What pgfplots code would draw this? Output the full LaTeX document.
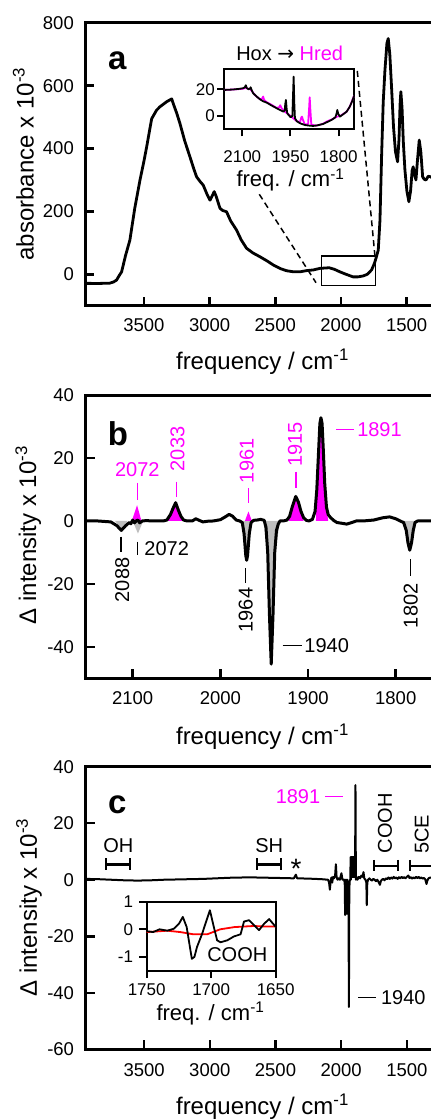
\documentclass[border=0pt]{standalone}
\usepackage{pgfplots}
\pgfplotsset{compat=1.18}
\usepackage{fontspec}
\setmainfont{Liberation Sans}
\newfontfamily\dejavu{DejaVu Sans}
\definecolor{mag}{RGB}{255,0,255}
\definecolor{gfill}{RGB}{190,190,190}
\newcommand\fs[1]{\fontsize{#1}{#1}\selectfont}
\pgfplotsset{
  mainax/.style={scale only axis, anchor=south west, x dir=reverse, clip=false,
    axis line style={line width=3pt}, tick align=inside, major tick length=9pt,
    tick style={line width=2.5pt, black}, xtick pos=left, ytick pos=left,
    tick label style={font=\fs{18.5}},
    /pgf/number format/1000 sep={}, /pgf/number format/assume math mode=true,
    yticklabel style={anchor=east, inner sep=0pt, xshift=-11.5pt},
    xticklabel style={anchor=center, inner sep=0pt}},
  insetax/.style={scale only axis, anchor=south west, x dir=reverse, clip=false,
    axis line style={line width=2.3pt}, tick align=outside, major tick length=7pt,
    tick style={line width=2pt, black}, xtick pos=left, ytick pos=left,
    tick label style={font=\fs{17}},
    /pgf/number format/1000 sep={}, /pgf/number format/assume math mode=true,
    yticklabel style={anchor=east, inner sep=0pt},
    xticklabel style={anchor=center, inner sep=0pt}},
}
\begin{document}
\begin{tikzpicture}

% ---------------- panel a ----------------
\begin{axis}[mainax, at={(85.5pt,813.2pt)}, width=386.8pt, height=283pt,
  xmin=1000, xmax=3945, ymin=-100, ymax=800,
  xtick={1500,2000,2500,3000,3500}, ytick={0,200,400,600,800},
  xticklabel style={yshift=-19.5pt}]
\addplot[line width=2.8pt, line join=round] coordinates {
(3945,-28.6)(3850,-29)(3760,-28)(3730,-24)(3708,-18)(3690,-5)(3670,8)(3640,60)(3607,109)(3570,210)(3530,300)(3500,360)(3479,406)(3454,465)(3441,495)(3404,522)(3378,533)(3327,549)(3289,558)(3270,535)(3250,512)(3226,480)(3190,425)(3150,374)(3120,335)(3099,310)(3070,294)(3049,284)(3020,255)(2997,236)(2980,250)(2965,263)(2950,248)(2921,210)(2900,203)(2871,199)(2840,170)(2795,141)(2760,110)(2719,83)(2670,68)(2617,56)(2560,42)(2516,30)(2460,18)(2414,11.5)(2360,8)(2312,8)(2260,12)(2211,14)(2160,19)(2090,21)(2050,16)(2008,8)(1960,0)(1908,-8)(1870,-8)(1830,-5)(1800,0)(1767,14)(1745,35)(1730,56)(1716,77)(1703,172)(1690,385)(1678,550)(1665,650)(1650,735)(1640,750)(1628,700)(1615,597)(1600,470)(1585,390)(1569,358)(1558,430)(1550,540)(1544,581)(1535,530)(1525,420)(1513,332)(1498,265)(1483,231)(1470,265)(1458,330)(1450,342)(1440,318)(1429,300)(1418,360)(1404,427)(1392,390)(1378,310)(1365,302)(1353,300)(1335,312)(1315,310)(1290,300)(1200,280)};
\pgfplotsinvokeforeach{1500,2000,2500,3000,3500}{\draw[line width=2.5pt] (axis cs:#1,-100) -- ++(0pt,9pt);}
\pgfplotsinvokeforeach{0,200,400,600,800}{\draw[line width=2.5pt] (axis cs:3945,#1) -- ++(9pt,0pt);}
\end{axis}

% inset a
\begin{axis}[insetax, at={(224.3pt,989.7pt)}, width=129.7pt, height=60.3pt,
  xmin=1752, xmax=2156, ymin=-10, ymax=35.2,
  xtick={1800,1950,2100}, ytick={0,20},
  xticklabel style={yshift=-20.5pt}, yticklabel style={xshift=-2.3pt}]
\addplot[mag, line width=1.8pt, line join=round] coordinates {
(2156,19.5)(2130,19.8)(2100,20.3)(2090,21)(2075,20)(2068,18)(2060,15.5)(2045,12.5)(2038,13)(2035,14.5)(2032,12)(2025,10.5)(2010,8.5)(1993,6)(1985,6.5)(1982,8)(1978,6)(1970,3.5)(1960,2)(1950,0)(1940,-2)(1930,-4)(1920,-4.5)(1916,-1)(1914,-0.5)(1911,-3)(1905,-6.5)(1895,-6)(1892,5)(1890,14)(1888,5)(1885,-6.5)(1870,-7.3)(1850,-6)(1835,-4)(1820,-2.5)(1805,-0.5)(1795,0)(1775,3.2)(1765,7)(1752,15)};
\addplot[black, line width=1.8pt, line join=round] coordinates {
(2156,19.5)(2130,19.8)(2110,20.3)(2097,20.8)(2092,21.5)(2089,23)(2086,21)(2081,20)(2076,20.5)(2074,21.5)(2071,19.5)(2066,17)(2055,14.5)(2045,12.5)(2035,11)(2024,10)(2010,8)(1993,5.8)(1980,4.2)(1972,3.2)(1968,4)(1966,9)(1964,12)(1962,6)(1960,2)(1955,0.5)(1949,-1)(1944,0)(1942,15)(1940,29.5)(1938,10)(1936,-1.7)(1930,-4)(1920,-5.5)(1905,-6.8)(1890,-7.3)(1879,-7.5)(1865,-7)(1848,-6)(1835,-4.5)(1822,-3)(1810,-1)(1806,2)(1804,4.5)(1801,1.5)(1796,-0.5)(1790,0.5)(1775,3.2)(1765,7)(1757,11.5)(1752,15)};
\pgfplotsinvokeforeach{1800,1950,2100}{\draw[line width=2pt] (axis cs:#1,-10) -- ++(0pt,-7pt);}
\pgfplotsinvokeforeach{0,20}{\draw[line width=2pt] (axis cs:2156,#1) -- ++(-7pt,0pt);}
\end{axis}

% ---------------- panel b ----------------
\begin{axis}[mainax, at={(85.7pt,440.7pt)}, width=397.7pt, height=283.2pt,
  xmin=1700, xmax=2153.6, ymin=-50, ymax=40,
  xtick={1800,1900,2000,2100}, ytick={-40,-20,0,20,40},
  xticklabel style={yshift=-20pt}]
\addplot[fill=gfill, draw=none] coordinates {(2120,0)(2116,-1.5)(2113,-3)(2110,-1.5)(2106,0)} \closedcycle;
\addplot[fill=gfill, draw=none] coordinates {(2100,0)(2094,-4)(2088,0)} \closedcycle;
\addplot[fill=gfill, draw=none] coordinates {(1975,0)(1970,-12.5)(1965,0)} \closedcycle;
\addplot[fill=gfill, draw=none] coordinates {(1951,0)(1944,-15)(1942,-45)(1940,-15)(1932,0)} \closedcycle;
\addplot[fill=gfill, draw=none] coordinates {(1792,0)(1784,-9.3)(1776,0)} \closedcycle;
\addplot[fill=mag, draw=none] coordinates {(2101,0)(2095,5)(2090,0)} \closedcycle;
\addplot[fill=mag, draw=none] coordinates {(2062,0)(2057,2)(2054,4)(2051,5.8)(2048,3.5)(2045,1.5)(2042,0)} \closedcycle;
\addplot[fill=mag, draw=none] coordinates {(1972,0)(1968,3)(1964,0)} \closedcycle;
\addplot[fill=mag, draw=none] coordinates {(1922,0)(1921,1.5)(1918,4.5)(1914,7.8)(1911,6)(1908,3)(1905,0)} \closedcycle;
\addplot[fill=mag, draw=none] coordinates {(1891,0)(1890,10)(1888,22)(1886.5,31)(1885.3,32.8)(1884,31)(1882.5,22)(1881,12)(1879,4.4)(1877,0)} \closedcycle;
\addplot[black, line width=3pt, line join=round] coordinates {
(2153,0)(2140,0)(2125,-0.3)(2118,-1.5)(2113,-3)(2108,-1.5)(2104,-0.5)(2102,-0.9)(2100,0.3)(2098,-0.6)(2096,0)(2094,0.3)(2092,-0.6)(2089,0)(2085,0.1)(2075,0)(2065,0)(2061,0.3)(2057,2)(2054,4)(2051,5.8)(2048,3.5)(2045,1.5)(2042,0.3)(2038,0)(2032,0)(2028,0.7)(2025,0.3)(2020,-0.3)(2015,-0.1)(2008,0)(2000,0.4)(1995,1.2)(1990,2.1)(1986,1.5)(1982,0.3)(1978,0)(1975,-0.5)(1973,-4)(1971,-11)(1970,-12.5)(1969,-11)(1967,-4)(1965,-0.5)(1962,0.2)(1958,0.3)(1954,0.5)(1950,0.2)(1948,-2)(1946,-10)(1944,-30)(1942,-45.5)(1940,-30)(1938,-10)(1936,-3)(1934,-1)(1932,0)(1928,0)(1924,0.3)(1921,1.5)(1918,4.5)(1914,7.8)(1911,6)(1908,3)(1905,1)(1902,0.2)(1899,0)(1895,0.5)(1892,3)(1890,10)(1888,22)(1886.5,31)(1885.3,32.8)(1884,31)(1882.5,22)(1881,12)(1879,4.4)(1877,2)(1875,1.3)(1871,0.2)(1867,-0.5)(1860,-0.8)(1856,-1)(1850,-0.5)(1845,0)(1837,0)(1825,0.3)(1815,1)(1807,1.3)(1800,0.7)(1795,0)(1791,-0.5)(1788,-3)(1786,-7)(1784,-9.3)(1782,-7)(1780,-3)(1778,-0.5)(1775,0)(1765,0)(1750,0)(1700,0)};
\pgfplotsinvokeforeach{1800,1900,2000,2100}{\draw[line width=2.5pt] (axis cs:#1,-50) -- ++(0pt,9pt);}
\pgfplotsinvokeforeach{-40,-20,0,20,40}{\draw[line width=2.5pt] (axis cs:2153.6,#1) -- ++(9pt,0pt);}
\end{axis}

% ---------------- panel c ----------------
\begin{axis}[mainax, at={(85.7pt,69.7pt)}, width=386.8pt, height=282.6pt,
  xmin=1000, xmax=3945, ymin=-60, ymax=40,
  xtick={1500,2000,2500,3000,3500}, ytick={-60,-40,-20,0,20,40},
  xticklabel style={yshift=-20.5pt}]
\addplot[black, line width=2pt, line join=round] coordinates {
(3945,0.3)(3850,0.2)(3750,0)(3650,-0.2)(3550,-0.3)(3450,-0.2)(3350,0)(3250,0.1)(3150,0.2)(3050,0.3)(2950,0.5)(2850,0.7)(2750,0.8)(2650,0.8)(2550,0.7)(2450,0.6)(2360,0.5)(2345,1.8)(2335,0.5)(2250,0.4)(2150,0.2)(2100,0)(2092,-1)(2086,-3.5)(2080,-0.5)(2074,0.8)(2068,-1)(2062,1)(2055,0.5)(2046,1.5)(2040,5.5)(2035,1)(2028,0)(2020,0.5)(2010,0)(1998,2.3)(1990,0)(1976,0)(1972,-2)(1970,-12.5)(1968,0)(1966,-12)(1964,-1)(1962,-12)(1960,0)(1958,-12)(1956,-1)(1954,-12)(1952,0)(1950,-12)(1948,-2)(1946,-12)(1944,-5)(1941,-45)(1938,-3)(1934,0)(1930,0)(1928,8)(1926,0)(1924,8)(1922,1)(1920,8)(1918,1)(1916,8)(1914,1)(1912,8)(1910,1)(1908,8)(1906,1)(1904,8)(1902,1)(1900,8)(1898,1)(1896,8)(1894,2)(1891,33.5)(1888,0)(1884,1)(1876,0)(1866,1)(1856,0.5)(1846,1.5)(1836,1)(1830,2.7)(1824,0.5)(1815,0)(1808,-1)(1805,-9)(1801,-1)(1795,0)(1785,0.5)(1775,0)(1765,-0.3)(1755,0.3)(1745,0)(1735,-0.5)(1725,0)(1715,-0.8)(1705,-1.8)(1698,-0.5)(1690,0)(1680,0.3)(1670,-0.2)(1660,0.5)(1650,0.2)(1640,0.8)(1630,0.3)(1620,0.8)(1610,0.4)(1600,1)(1590,0.5)(1580,0.8)(1570,0.3)(1560,0.9)(1550,0.5)(1540,1)(1530,0.6)(1520,0.9)(1510,0.5)(1500,1)(1488,1.5)(1480,0.6)(1470,0.9)(1460,0.4)(1450,0.8)(1440,0.5)(1430,1)(1420,0.6)(1410,1)(1400,0.5)(1390,0.8)(1380,0.4)(1370,0.6)(1360,0.2)(1350,-1.5)(1345,-0.5)(1335,0.5)(1320,0.8)(1300,0.6)};
\pgfplotsinvokeforeach{1500,2000,2500,3000,3500}{\draw[line width=2.5pt] (axis cs:#1,-60) -- ++(0pt,9pt);}
\pgfplotsinvokeforeach{-60,-40,-20,0,20,40}{\draw[line width=2.5pt] (axis cs:3945,#1) -- ++(9pt,0pt);}
\end{axis}

% inset c
\begin{axis}[insetax, at={(146.7pt,148.3pt)}, width=129pt, height=69pt,
  xmin=1650, xmax=1750, ymin=-1.5, ymax=1,
  xtick={1650,1700,1750}, ytick={-1,0,1},
  xticklabel style={yshift=-12.3pt}, yticklabel style={xshift=-6.4pt}]
\addplot[red, line width=1.8pt, line join=round] coordinates {
(1750,-0.1)(1740,-0.07)(1734,-0.05)(1724,-0.1)(1714,-0.18)(1703,-0.18)(1693,0)(1682,0.08)(1667,0.12)(1658,0.1)(1650,0.1)};
\addplot[black, line width=1.8pt, line join=round] coordinates {
(1750,-0.07)(1745,-0.1)(1740,0)(1734,-0.05)(1729,0.02)(1725,0.2)(1722,0.45)(1719,0.08)(1717,-0.5)(1715,-1.07)(1713,-1.0)(1711,-0.64)(1707,-0.16)(1704.5,0.2)(1701,0.69)(1698,0.09)(1695.4,-0.4)(1692.8,-0.47)(1687.6,-0.4)(1682.4,-0.26)(1677.2,-0.18)(1674.6,0.28)(1670.7,0.33)(1666.8,0.15)(1662.9,-0.03)(1659,0.2)(1655.1,0.37)(1650,0.09)};
\pgfplotsinvokeforeach{1650,1700,1750}{\draw[line width=2pt] (axis cs:#1,-1.5) -- ++(0pt,-7.5pt);}
\pgfplotsinvokeforeach{-1,0,1}{\draw[line width=2pt] (axis cs:1750,#1) -- ++(-8pt,0pt);}
\end{axis}

% ---------------- annotations panel a ----------------
\node[font=\fs{24}, rotate=90] at (23.3pt,955pt) {absorbance x 10\textsuperscript{-3}};
\node[font=\fs{24}] at (262.5pt,757pt) {frequency / cm\textsuperscript{-1}};
\node[font=\fs{33}\bfseries] at (117.3pt,1058pt) {a};
\node[font=\fs{20}] at (289.7pt,1065.7pt) {Hox {\dejavu →} \textcolor{mag}{Hred}};
\node[font=\fs{22}] at (290.5pt,939pt) {freq. / cm\textsuperscript{-1}};
\draw[line width=1.5pt] (321.7pt,863pt) rectangle (375.7pt,833.7pt);
\draw[line width=1.5pt, dash pattern=on 6pt off 4pt] (259.3pt,924.7pt) -- (316pt,836.3pt);
\draw[line width=1.5pt, dash pattern=on 6pt off 4pt] (357.3pt,1048pt) -- (375pt,862.3pt);

% ---------------- annotations panel b ----------------
\node[font=\fs{24}, rotate=90] at (28.3pt,584pt) {Δ intensity x 10\textsuperscript{-3}};
\node[font=\fs{24}] at (262.5pt,382.3pt) {frequency / cm\textsuperscript{-1}};
\node[font=\fs{33}\bfseries] at (118pt,685.7pt) {b};
\begin{scope}[mag, font=\fs{20}]
\node at (137.3pt,649.7pt) {2072};
\draw[line width=1.5pt] (137.3pt,636pt) -- (137.3pt,619pt);
\node[rotate=90] at (177.5pt,670pt) {2033};
\draw[line width=1.5pt] (176.7pt,637.3pt) -- (176.7pt,622.3pt);
\node[rotate=90] at (246.7pt,658.2pt) {1961};
\draw[line width=1.5pt] (248.3pt,630.7pt) -- (248.3pt,615.7pt);
\node[rotate=90] at (295pt,674.8pt) {1915};
\draw[line width=1.5pt] (296pt,647.3pt) -- (296pt,630.7pt);
\draw[line width=1.5pt] (336pt,689.7pt) -- (354.3pt,689.7pt);
\node at (379.5pt,689.7pt) {1891};
\end{scope}
\begin{scope}[black, font=\fs{20}]
\node[rotate=90] at (122.3pt,539pt) {2088};
\draw[line width=1.5pt] (121pt,582.3pt) -- (121pt,567.3pt);
\draw[line width=1.5pt] (137.3pt,577.3pt) -- (137.3pt,564pt);
\node at (166.7pt,570.7pt) {2072};
\node[rotate=90] at (245.7pt,509pt) {1964};
\draw[line width=1.5pt] (245.7pt,550.7pt) -- (245.7pt,536.3pt);
\draw[line width=1.5pt] (282.7pt,473.3pt) -- (301.7pt,473.3pt);
\node at (326.7pt,473.3pt) {1940};
\node[rotate=90] at (410.7pt,513.2pt) {1802};
\draw[line width=1.5pt] (410.7pt,559.7pt) -- (410.7pt,543pt);
\end{scope}

% ---------------- annotations panel c ----------------
\node[font=\fs{24}, rotate=90] at (29pt,211.5pt) {Δ intensity x 10\textsuperscript{-3}};
\node[font=\fs{24}] at (262.5pt,12.3pt) {frequency / cm\textsuperscript{-1}};
\node[font=\fs{33}\bfseries] at (117.3pt,314pt) {c};
\node[font=\fs{20}, mag] at (298pt,322.3pt) {1891};
\draw[mag, line width=1.5pt] (325pt,322.3pt) -- (343.3pt,322.3pt);
\draw[line width=1.5pt] (358.3pt,121.7pt) -- (376pt,121.7pt);
\node[font=\fs{20}] at (403.3pt,121.7pt) {1940};
\node[font=\fs{20}] at (118.3pt,273pt) {OH};
\node[font=\fs{20}] at (269.2pt,273pt) {SH};
\node[font=\fs{28}] at (296pt,250pt) {*};
\node[font=\fs{20}, rotate=90] at (385pt,295.7pt) {COOH};
\node[font=\fs{20}, rotate=90] at (421.7pt,284.8pt) {5CE};
\begin{scope}[line width=2.2pt]
\draw (106pt,254.5pt) -- (130pt,254.5pt); \draw (106pt,260.7pt) -- (106pt,249pt); \draw (130pt,260.7pt) -- (130pt,249pt);
\draw (257.3pt,254.5pt) -- (281pt,254.5pt); \draw (257.3pt,260.7pt) -- (257.3pt,249pt); \draw (281pt,260.7pt) -- (281pt,249pt);
\draw (374pt,253pt) -- (398pt,253pt); \draw (374pt,259pt) -- (374pt,247.5pt); \draw (398pt,259pt) -- (398pt,247.5pt);
\draw (410pt,253pt) -- (440pt,253pt); \draw (410pt,259pt) -- (410pt,247.5pt);
\end{scope}
\node[font=\fs{20}] at (237.3pt,164pt) {COOH};
\node[font=\fs{22}] at (210.5pt,105.7pt) {freq. / cm\textsuperscript{-1}};

\pgfresetboundingbox
\path[use as bounding box] (0,0) rectangle (431pt,1119pt);
\end{tikzpicture}
\end{document}
